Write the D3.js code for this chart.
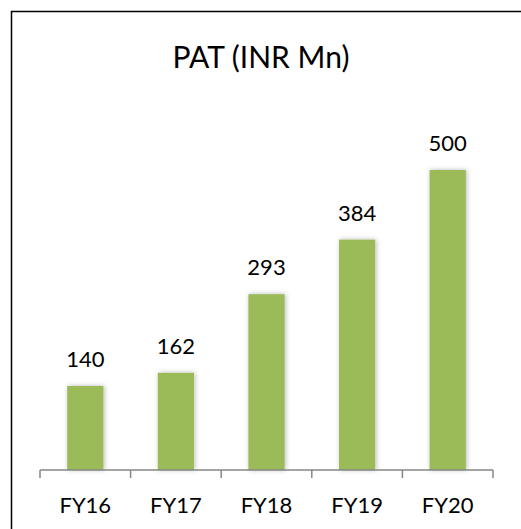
<!DOCTYPE html>
<html>
<head>
<meta charset="utf-8">
<script src="https://cdn.jsdelivr.net/npm/d3@7"></script>
<style>
  html, body { margin: 0; padding: 0; background: #fff; }
  svg { display: block; font-family: Lato, "Open Sans", sans-serif; }
</style>
</head>
<body>
<div id="chart"></div>
<script>
// chart data
const years = ["FY16", "FY17", "FY18", "FY19", "FY20"];
const pat = [140, 162, 293, 384, 500];
const title = "PAT (INR Mn)";

const W = 521, H = 529;
const margin = { top: 170, right: 28, bottom: 59, left: 40 };
const width = W - margin.left - margin.right;
const height = H - margin.top - margin.bottom;

const svg = d3.select("#chart")
  .append("svg")
  .attr("width", W)
  .attr("height", H);

// soft shadow behind bars
const defs = svg.append("defs");
const f = defs.append("filter").attr("id", "shadow")
  .attr("x", "-30%").attr("y", "-10%").attr("width", "160%").attr("height", "120%");
f.append("feDropShadow")
  .attr("dx", 1).attr("dy", 0).attr("stdDeviation", 2.5)
  .attr("flood-color", "#000").attr("flood-opacity", 0.28);

// frame (only top and left visible in the shot)
svg.append("rect")
  .attr("x", 11.5).attr("y", 11.5)
  .attr("width", W + 20).attr("height", H + 20)
  .attr("fill", "none").attr("stroke", "#000").attr("stroke-width", 1.5);

svg.append("text")
  .attr("x", 261).attr("y", 68)
  .attr("text-anchor", "middle")
  .style("font-size", "30px")
  .attr("fill", "#000")
  .text(title);

const g = svg.append("g").attr("transform", `translate(${margin.left},${margin.top})`);

const x = d3.scaleBand().domain(years).range([0, width]);
const y = d3.scaleLinear().domain([0, 500]).range([height, 0]);
const barW = x.bandwidth() * 0.4;

g.selectAll(".bar")
  .data(years)
  .enter().append("rect")
  .attr("class", "bar")
  .attr("x", (d) => x(d) + (x.bandwidth() - barW) / 2)
  .attr("y", (d, i) => y(pat[i]))
  .attr("width", barW)
  .attr("height", (d, i) => height - y(pat[i]))
  .attr("fill", "#9bbb59")
  .attr("filter", "url(#shadow)");

// value labels
g.selectAll(".label")
  .data(years)
  .enter().append("text")
  .attr("class", "label")
  .attr("x", (d) => x(d) + x.bandwidth() / 2)
  .attr("y", (d, i) => y(pat[i]) - 19)
  .attr("text-anchor", "middle")
  .style("font-size", "22px")
  .attr("fill", "#000")
  .text((d, i) => pat[i]);

// x axis with ticks at band edges
const axis = g.append("g").attr("transform", `translate(0,${height})`);
axis.append("line")
  .attr("x1", 0).attr("x2", width)
  .attr("stroke", "#868686").attr("stroke-width", 1.5);
const edges = years.map((d) => x(d)).concat([width]);
axis.selectAll(".tick")
  .data(edges)
  .enter().append("line")
  .attr("x1", (d) => d).attr("x2", (d) => d)
  .attr("y1", 0).attr("y2", 8)
  .attr("stroke", "#868686").attr("stroke-width", 1.5);
axis.selectAll(".xlab")
  .data(years)
  .enter().append("text")
  .attr("x", (d) => x(d) + x.bandwidth() / 2)
  .attr("y", 43)
  .attr("text-anchor", "middle")
  .style("font-size", "22px")
  .attr("fill", "#000")
  .text((d) => d);
</script>
</body>
</html>
